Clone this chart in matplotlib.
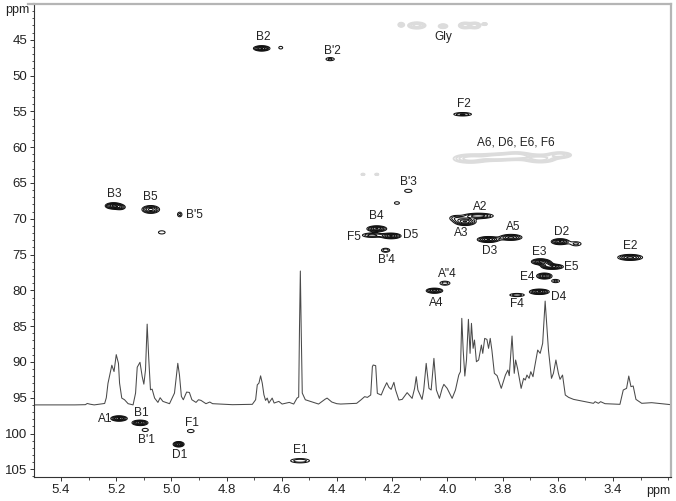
# -*- coding: utf-8 -*-
"""HSQC spectrum with 1D proton trace, peak assignments from the figure."""

import matplotlib
matplotlib.use("Agg")
import matplotlib.pyplot as plt
import numpy as np
from matplotlib.ticker import MultipleLocator

plt.rcParams["font.family"] = ["Liberation Sans", "DejaVu Sans"]

INK = "#222222"

# 1D proton trace: shift (ppm) and height on the carbon scale
trace_ppm = [
    5.50, 5.35, 5.312, 5.305, 5.295, 5.28, 5.242, 5.236, 5.230, 5.216, 5.208, 5.200, 5.192,
    5.188, 5.180, 5.170, 5.157, 5.139, 5.130, 5.124, 5.114, 5.106, 5.100, 5.094, 5.088, 5.082,
    5.076, 5.070, 5.061, 5.049, 5.041, 5.031, 5.007, 4.989, 4.977, 4.971, 4.964, 4.957, 4.945,
    4.935, 4.926, 4.911, 4.902, 4.893, 4.875, 4.861, 4.851, 4.779, 4.707, 4.695, 4.689, 4.683,
    4.677, 4.671, 4.665, 4.659, 4.653, 4.647, 4.635, 4.628, 4.611, 4.599, 4.573, 4.557, 4.545,
    4.539, 4.536, 4.533, 4.530, 4.526, 4.515, 4.467, 4.443, 4.436, 4.419, 4.401, 4.387,
    4.329, 4.314, 4.300, 4.290, 4.278, 4.272, 4.269, 4.260, 4.254, 4.240, 4.230, 4.220, 4.212,
    4.204, 4.194, 4.188, 4.176, 4.164, 4.146, 4.128, 4.119, 4.113, 4.107, 4.092, 4.086, 4.077,
    4.067, 4.059, 4.049, 4.040, 4.029, 4.019, 4.013, 4.001, 3.983, 3.971, 3.959, 3.953, 3.948,
    3.943, 3.937, 3.931, 3.924, 3.918, 3.913, 3.907, 3.902, 3.895, 3.887, 3.877, 3.872, 3.865,
    3.857, 3.851, 3.845, 3.839, 3.830, 3.820, 3.805, 3.790, 3.781, 3.776, 3.766, 3.758, 3.753,
    3.746, 3.733, 3.724, 3.718, 3.712, 3.704, 3.698, 3.690, 3.686, 3.673, 3.664, 3.655, 3.646,
    3.634, 3.623, 3.616, 3.607, 3.598, 3.592, 3.583, 3.573, 3.561, 3.543, 3.519, 3.471, 3.465,
    3.453, 3.445, 3.429, 3.375, 3.363, 3.351, 3.343, 3.335, 3.327, 3.317, 3.296, 3.260, 3.190,
]
trace_level = [
    96.0, 96.0, 95.97, 95.8, 95.9, 96.0, 95.8, 95.0, 93.0, 90.46, 91.34, 88.98, 90.19,
    92.96, 95.05, 95.28, 95.83, 96.0, 94.35, 90.74, 90.05, 92.04, 93.10, 91.11, 84.72, 89.72,
    93.89, 93.80, 95.05, 95.65, 95.0, 95.51, 95.83, 94.35, 90.19, 91.81, 94.81, 95.28, 94.21,
    94.26, 95.28, 95.65, 95.28, 95.37, 95.83, 95.6, 95.83, 95.97, 95.92, 95.28, 93.2, 92.96,
    91.94, 92.96, 94.58, 95.37, 95.05, 95.74, 95.05, 95.74, 95.51, 95.88, 95.65, 95.88, 95.05,
    94.9, 85.09, 77.3, 85.09, 94.35, 95.28, 95.88, 95.2, 95.05, 95.6, 95.83, 95.88,
    95.78, 95.32, 94.85, 94.95, 94.62, 90.66, 90.43, 90.52, 94.39, 94.62, 93.69, 92.90, 93.55,
    93.83, 92.85, 93.92, 95.32, 95.23, 94.29, 95.09, 93.69, 92.06, 93.92, 95.23, 93.92, 90.20,
    93.69, 93.92, 89.50, 93.92, 95.09, 93.69, 93.13, 93.69, 95.09, 93.92, 91.83, 91.36, 83.91,
    88.34, 91.97, 89.73, 84.05, 88.80, 84.61, 88.10, 86.94, 89.97, 89.73, 87.64, 88.80, 86.71,
    86.85, 88.10, 86.71, 88.34, 91.59, 91.92, 93.69, 91.83, 91.13, 91.92, 86.38, 91.59, 89.73,
    90.90, 93.69, 92.29, 92.53, 91.83, 92.29, 91.36, 92.06, 91.13, 88.34, 88.80, 87.40, 81.5,
    88.34, 92.29, 91.59, 89.73, 91.59, 92.43, 91.83, 94.62, 94.95, 95.23, 95.41, 95.78, 95.55,
    95.78, 95.55, 95.83, 95.92, 93.92, 93.69, 91.97, 93.45, 93.36, 95.23, 95.78, 95.69, 95.97,
]

# cross peaks: proton shift, carbon shift, half extents, relative intensity
peak_ppm = [
    4.673, 4.604, 4.425, 5.210, 5.185, 5.075, 4.970, 5.035, 5.190, 5.114, 5.095, 4.930, 4.974,
    4.534, 3.945, 4.142, 4.183, 4.256, 4.274, 4.204, 4.224, 3.888, 3.936, 3.972, 3.852, 3.770,
    3.592, 3.534, 3.338, 3.664, 3.616, 3.640, 3.649, 3.608, 3.667, 3.748, 4.047, 4.009,
]
peak_carbon = [
    46.2, 46.1, 47.7, 68.2, 68.4, 68.7, 69.4, 71.9, 97.9, 98.5, 99.5, 99.65, 101.5,
    103.8, 55.4, 66.1, 67.8, 71.4, 72.3, 72.4, 74.4, 69.6, 70.4, 69.9, 72.9, 72.6,
    73.2, 73.5, 75.4, 76.0, 76.7, 76.4, 78.0, 78.7, 80.2, 80.65, 80.05, 79.0,
]
peak_half_ppm = [
    0.030, 0.007, 0.015, 0.030, 0.016, 0.032, 0.008, 0.012, 0.030, 0.029, 0.011, 0.012, 0.020,
    0.034, 0.032, 0.013, 0.009, 0.036, 0.034, 0.036, 0.015, 0.054, 0.040, 0.018, 0.040, 0.040,
    0.032, 0.018, 0.045, 0.032, 0.036, 0.020, 0.028, 0.014, 0.036, 0.026, 0.030, 0.018,
]
peak_half_carbon = [
    0.38, 0.18, 0.22, 0.45, 0.30, 0.55, 0.32, 0.22, 0.38, 0.38, 0.22, 0.22, 0.38,
    0.30, 0.24, 0.22, 0.18, 0.42, 0.30, 0.40, 0.28, 0.38, 0.55, 0.30, 0.42, 0.42,
    0.42, 0.28, 0.42, 0.42, 0.36, 0.45, 0.42, 0.22, 0.38, 0.22, 0.36, 0.28,
]
peak_strength = [
    0.9, 0.26, 0.34, 0.9, 0.45, 0.8, 0.34, 0.26, 0.9, 0.9, 0.26, 0.3, 0.9,
    0.42, 0.45, 0.3, 0.26, 0.9, 0.5, 0.9, 0.4, 0.7, 0.9, 0.34, 0.9, 0.8,
    0.9, 0.34, 0.8, 0.9, 0.8, 0.7, 0.8, 0.34, 0.9, 0.4, 0.8, 0.38,
]

# pale cross peaks (Gly and the CH2-6 group)
pale_ppm = [4.168, 4.111, 4.016, 3.937, 3.900, 3.865, 3.918, 3.821, 3.749, 3.664, 3.592, 4.306, 4.256]
pale_carbon = [42.9, 43.0, 43.1, 43.0, 43.0, 42.8, 61.6, 61.4, 61.2, 61.6, 61.1, 63.8, 63.8]
pale_half_ppm = [0.010, 0.032, 0.016, 0.022, 0.020, 0.008, 0.060, 0.060, 0.050, 0.055, 0.040, 0.006, 0.006]
pale_half_carbon = [0.28, 0.45, 0.28, 0.42, 0.42, 0.15, 0.60, 0.50, 0.50, 0.55, 0.40, 0.10, 0.10]

# assignment labels and where they sit
label_text = [
    "B2", "B'2", "B3", "B5", "B'5", "A1", "B1", "B'1", "F1", "D1", "E1", "Gly", "F2",
    "A6, D6, E6, F6", "B'3", "B4", "F5", "D5", "B'4", "A2", "A3", "D3", "A5", "D2", "E2",
    "E3", "E5", "E4", 'A"4', "A4", "F4", "D4",
]
label_ppm = [
    4.668, 4.418, 5.208, 5.078, 4.918, 5.241, 5.110, 5.092, 4.925, 4.972, 4.534, 4.016, 3.940,
    3.751, 4.143, 4.259, 4.338, 4.132, 4.222, 3.882, 3.951, 3.846, 3.762, 3.588, 3.338,
    3.668, 3.552, 3.712, 4.001, 4.041, 3.748, 3.596,
]
label_carbon = [
    44.6, 46.6, 66.6, 67.0, 69.5, 98.0, 97.1, 100.9, 98.5, 103.0, 102.3, 44.6, 54.0,
    59.4, 64.9, 69.6, 72.6, 72.3, 75.8, 68.4, 72.0, 74.5, 71.2, 71.9, 73.8,
    74.7, 76.7, 78.1, 77.7, 81.8, 81.9, 80.9,
]

LOW_LEVEL = 0.2


def peak_surface(px, py, ppms, carbons, half_x, half_y, amps):
    """Sum of elliptical peaks whose lowest contour has the given half extents."""
    z = np.zeros_like(px)
    for x0, y0, hx, hy, a in zip(ppms, carbons, half_x, half_y, amps):
        k = np.sqrt(2 * np.log(a / LOW_LEVEL))
        z += a * np.exp(-0.5 * (((px - x0) / (hx / k)) ** 2 + ((py - y0) / (hy / k)) ** 2))
    return z


fig = plt.figure(figsize=(6.76, 5.01), dpi=100)
ax = fig.add_axes([34 / 676, 1 - 476.7 / 501, (671 - 34) / 676, (476.7 - 4) / 501])

grid_x, grid_y = np.meshgrid(np.linspace(5.5, 3.19, 2400), np.linspace(40, 106, 1400))

z_pale = peak_surface(grid_x, grid_y, pale_ppm, pale_carbon, pale_half_ppm, pale_half_carbon,
                      [0.6] * len(pale_ppm))
ax.contour(grid_x, grid_y, z_pale, levels=[0.2, 0.28, 0.38, 0.5], colors="#dcdcdc", linewidths=1.3)

z = peak_surface(grid_x, grid_y, peak_ppm, peak_carbon, peak_half_ppm, peak_half_carbon, peak_strength)
ax.contour(grid_x, grid_y, z, levels=[0.2, 0.3, 0.42, 0.56, 0.72, 0.88],
           colors="#111111", linewidths=0.75)

ax.plot(trace_ppm, trace_level, color="#4a4a4a", lw=0.75)

for text, x, y in zip(label_text, label_ppm, label_carbon):
    ax.text(x, y, text, ha="center", va="center", fontsize=8.6, color=INK)

ax.set_xlim(5.498, 3.19)
ax.set_ylim(106.03, 40.0)

ax.xaxis.set_minor_locator(MultipleLocator(0.1))
ax.yaxis.set_minor_locator(MultipleLocator(1))
ax.set_yticks([45, 50, 55, 60, 65, 70, 75, 80, 85, 90, 95, 100, 105])
ax.set_xticks([5.4, 5.2, 5.0, 4.8, 4.6, 4.4, 4.2, 4.0, 3.8, 3.6, 3.4])
ax.set_xticklabels(["5.4", "5.2", "5.0", "4.8", "4.6", "4.4", "4.2", "4.0", "3.8", "3.6", "3.4"])
ax.tick_params(axis="both", which="major", length=3.2, width=0.7, labelsize=9.5,
               color="#333333", labelcolor=INK)
ax.tick_params(axis="x", which="major", pad=2.4)
ax.tick_params(axis="y", which="major", pad=1.8)
ax.tick_params(axis="both", which="minor", length=1.8, width=0.6, color="#333333")

for side in ("left", "bottom"):
    ax.spines[side].set_color("#333333")
    ax.spines[side].set_linewidth(0.8)
for side in ("top", "right"):
    ax.spines[side].set_color("#b5b5b5")
    ax.spines[side].set_linewidth(1.6)
ax.plot([-0.01, 0], [1, 1], transform=ax.transAxes, clip_on=False, color="#b5b5b5", lw=1.6)

fig.text(17 / 676, 1 - 10 / 501, "ppm", ha="center", va="center", fontsize=9, color=INK)
fig.text(658 / 676, 1 - 491 / 501, "ppm", ha="center", va="center", fontsize=9, color=INK)

fig.savefig("out.png", dpi=100)
